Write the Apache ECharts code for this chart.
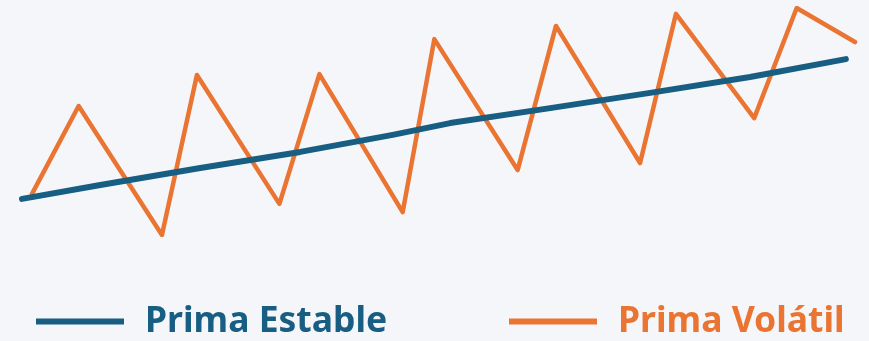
<!DOCTYPE html>
<html>
<head>
<meta charset="utf-8">
<script src="https://cdn.jsdelivr.net/npm/echarts@6/dist/echarts.min.js"></script>
<style>
  html, body { margin: 0; padding: 0; background: #f5f6fa; }
  #chart { width: 869px; height: 341px; }
</style>
</head>
<body>
<div id="chart"></div>
<script>
// series names
const seriesNames = ['Prima Estable', 'Prima Volátil']

// stable premium: [x, value]
const stableX = [0, 9.4, 21.4, 33.4, 44.5, 51.4, 63.4, 75.4, 87.4, 98.9]
const stableY = [15.9, 22.0, 29.5, 36.6, 44.1, 49.3, 55.9, 62.6, 69.6, 77.5]

// volatile premium: [x, value]
const volatileX = [1.2, 6.8, 16.8, 21.0, 30.9, 35.7, 45.7, 49.5, 59.5, 64.1, 74.2, 78.5, 87.9, 93.0, 100]
const volatileY = [18.1, 56.8, 0, 70.5, 13.7, 70.9, 10.1, 86.3, 28.6, 92.1, 31.7, 97.4, 51.5, 100, 85.0]

const colors = ['#175e82', '#ea7533']

const legendText = {
  fontFamily: 'Noto Sans',
  fontWeight: 'bold',
  fontSize: 35.5,
  lineHeight: 36,
  padding: [5, 0, 0, 16],
  color: 'inherit'
}

function legendAt(left, name) {
  return {
    left: left,
    top: 301,
    padding: 0,
    icon: 'rect',
    itemWidth: 88,
    itemHeight: 6,
    data: [name],
    textStyle: legendText
  }
}

const chart = echarts.init(document.getElementById('chart'))

chart.setOption({
  backgroundColor: '#f5f6fa',
  animation: false,
  color: colors,
  grid: { left: 22, right: 14, top: 8, bottom: 106 },
  xAxis: { type: 'value', min: 0, max: 100, show: false },
  yAxis: { type: 'value', min: 0, max: 100, show: false },
  legend: [legendAt(36, seriesNames[0]), legendAt(509, seriesNames[1])],
  series: [
    {
      name: seriesNames[0],
      type: 'line',
      symbol: 'none',
      z: 3,
      lineStyle: { width: 6, cap: 'round', join: 'round' },
      data: stableX.map((x, i) => [x, stableY[i]])
    },
    {
      name: seriesNames[1],
      type: 'line',
      symbol: 'none',
      z: 2,
      lineStyle: { width: 4.5, cap: 'round', join: 'round' },
      data: volatileX.map((x, i) => [x, volatileY[i]])
    }
  ]
})
</script>
</body>
</html>
